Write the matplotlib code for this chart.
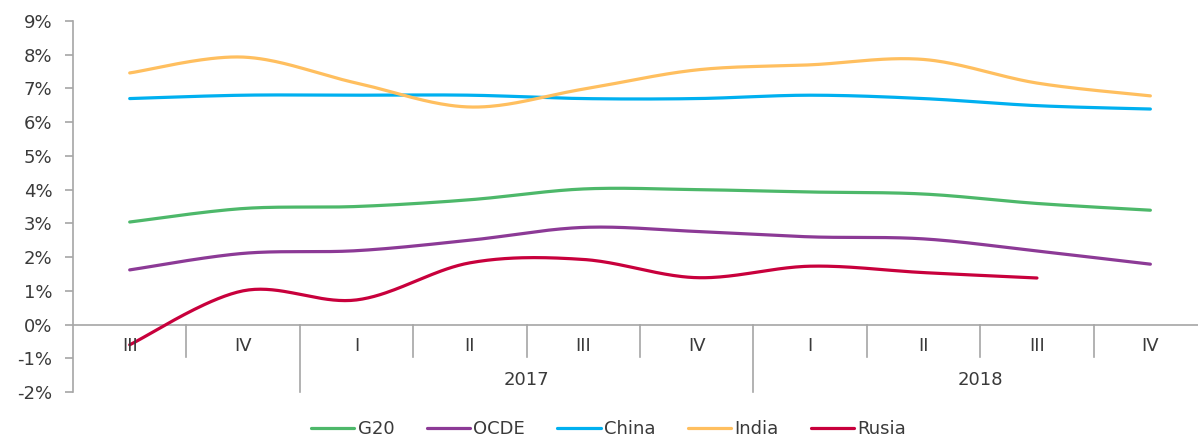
import numpy as np
import matplotlib
matplotlib.use("Agg")
import matplotlib.pyplot as plt

quarters = ["III", "IV", "I", "II", "III", "IV", "I", "II", "III", "IV"]
years = ["2017", "2018"]
g20 = [3.04, 3.44, 3.50, 3.70, 4.02, 4.00, 3.93, 3.87, 3.59, 3.39]
ocde = [1.62, 2.11, 2.19, 2.50, 2.88, 2.76, 2.60, 2.54, 2.18, 1.79]
china = [6.70, 6.80, 6.80, 6.80, 6.70, 6.70, 6.80, 6.70, 6.49, 6.39]
india = [7.46, 7.93, 7.16, 6.45, 6.98, 7.55, 7.70, 7.86, 7.16, 6.78]
rusia = [-0.60, 1.00, 0.73, 1.83, 1.93, 1.39, 1.73, 1.54, 1.38]

series = [("G20", g20, "#4DB86A"), ("OCDE", ocde, "#8C3A96"),
          ("China", china, "#00B0F0"), ("India", india, "#FFBF5F"),
          ("Rusia", rusia, "#C8003C")]

plt.rcParams['font.family'] = ['DejaVu Sans']


def smooth(xs, ys, n=40):
    xs = np.asarray(xs, float); ys = np.asarray(ys, float)
    px = np.concatenate([[xs[0]], xs, [xs[-1]]])
    py = np.concatenate([[ys[0]], ys, [ys[-1]]])
    ox, oy = [], []
    t = np.linspace(0, 1, n)
    for i in range(1, len(px) - 2):
        p0 = np.array([px[i], py[i]]); p3 = np.array([px[i + 1], py[i + 1]])
        p1 = p0 + (np.array([px[i + 1], py[i + 1]]) - np.array([px[i - 1], py[i - 1]])) / 6
        p2 = p3 - (np.array([px[i + 2], py[i + 2]]) - np.array([px[i], py[i]])) / 6
        b = ((1 - t) ** 3)[:, None] * p0 + (3 * (1 - t) ** 2 * t)[:, None] * p1 + \
            (3 * (1 - t) * t ** 2)[:, None] * p2 + (t ** 3)[:, None] * p3
        ox.extend(b[:, 0]); oy.extend(b[:, 1])
    return np.array(ox), np.array(oy)


fig = plt.figure(figsize=(11.98, 4.36), dpi=100)
ax = fig.add_axes([73 / 1198, 1 - 392 / 436, 1 - 73 / 1198, (392 - 21) / 436])

gray = "#A6A6A6"
txt = "#3A3A3A"
fs = 13

for name, vals, col in series:
    x = np.arange(len(vals))
    sx, sy = smooth(x, vals)
    ax.plot(sx, sy, color=col, lw=2.3, label=name, solid_capstyle='round', zorder=3, clip_on=False)

ax.set_xlim(-0.5, 9.42)
ax.set_ylim(-2, 9)
ax.set_yticks(range(-2, 10))
ax.set_yticklabels([f"{v}%" for v in range(-2, 10)], fontsize=fs, color=txt)
ax.tick_params(axis='y', length=5.8, color=gray, width=1.2, pad=9)
ax.set_xticks([])
for s in ["top", "right", "bottom"]:
    ax.spines[s].set_visible(False)
ax.spines["left"].set_color(gray)
ax.spines["left"].set_linewidth(1.2)

ax.axhline(0, color=gray, lw=1.2, zorder=1)
for b in np.arange(0.5, 9.5, 1.0):
    bottom = -2 if b in (1.5, 5.5) else -0.97
    ax.plot([b, b], [0, bottom], color=gray, lw=1.2, clip_on=False, zorder=1)

for i, q in enumerate(quarters):
    ax.text(i, -0.65, q, ha='center', va='center', fontsize=fs, color=txt)
ax.text(3.5, -1.63, years[0], ha='center', va='center', fontsize=fs, color=txt)
ax.text(7.5, -1.63, years[1], ha='center', va='center', fontsize=fs, color=txt)

fig.legend(loc='center', bbox_to_anchor=(0.508, 0.016), ncol=5, frameon=False,
           fontsize=fs, handlelength=2.4, handletextpad=0.17, columnspacing=1.8,
           labelcolor=txt)

fig.savefig("out.png", dpi=100)
